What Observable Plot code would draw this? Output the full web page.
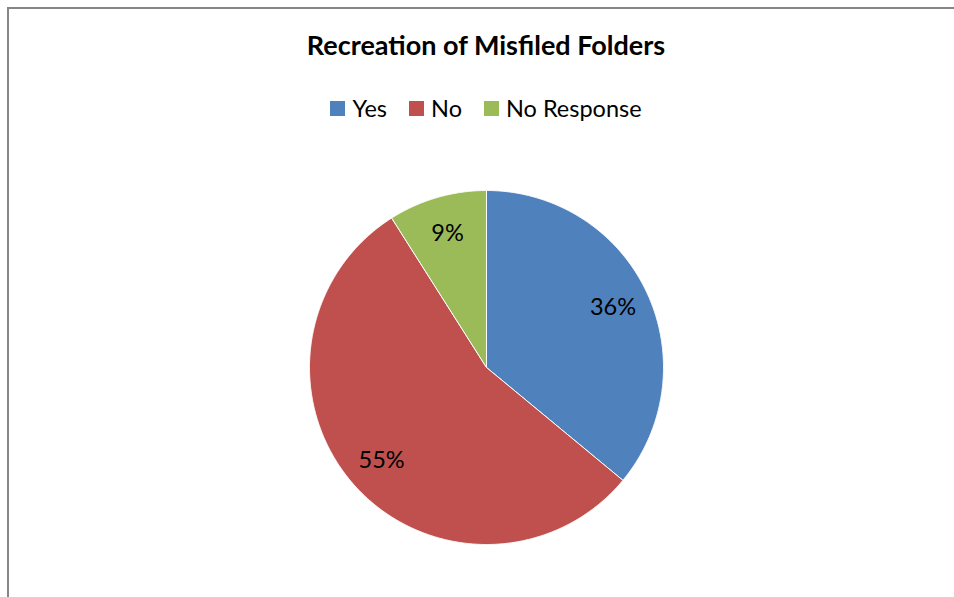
<!DOCTYPE html>
<html>
<head>
<meta charset="utf-8">
<script src="https://cdn.jsdelivr.net/npm/d3@7"></script>
<script src="https://cdn.jsdelivr.net/npm/@observablehq/plot@0.6"></script>
<style>
  html, body { margin: 0; padding: 0; background: #fff; overflow: hidden; }
  #wrap { position: relative; width: 954px; height: 597px; overflow: hidden; font-family: Lato, "Open Sans", sans-serif; }
  #frame { position: absolute; left: 7px; top: 7px; width: 1000px; height: 1000px; border-top: 2px solid #868686; border-left: 2px solid #868686; box-sizing: border-box; }
  #title { position: absolute; left: 0; width: 972px; top: 28px; text-align: center; font-weight: bold; font-size: 27px; color: #000; white-space: nowrap; }
  #legend { position: absolute; left: 0; width: 972px; top: 94px; display: flex; justify-content: center; gap: 22px; font-size: 23.5px; color: #000; }
  #legend .item { display: flex; align-items: center; gap: 7px; }
  #legend .sw { width: 15px; height: 15px; display: inline-block; }
  #chart { position: absolute; left: 0; top: 130px; }
</style>
</head>
<body>
<div id="wrap">
  <div id="frame"></div>
  <div id="title"></div>
  <div id="legend"></div>
  <div id="chart"></div>
</div>
<script>
const title = "Recreation of Misfiled Folders";
const categories = ["Yes", "No", "No Response"];
const values = [36, 55, 9];
const colors = ["#4F81BD", "#C0504D", "#9BBB59"];

document.getElementById("title").textContent = title;
const legend = document.getElementById("legend");
categories.forEach((c, i) => {
  const item = document.createElement("span");
  item.className = "item";
  const sw = document.createElement("span");
  sw.className = "sw";
  sw.style.background = colors[i];
  const t = document.createElement("span");
  t.textContent = c;
  item.appendChild(sw);
  item.appendChild(t);
  legend.appendChild(item);
});

const total = d3.sum(values);
const slices = d3.pie().sort(null).value(d => d.value)(categories.map((c, i) => ({cat: c, value: values[i]})));

// polygon points for each slice, in unit-circle coordinates (angle clockwise from top)
const points = [];
slices.forEach(s => {
  const cat = s.data.cat;
  points.push({cat, x: 0, y: 0});
  const n = Math.max(2, Math.ceil((s.endAngle - s.startAngle) / 0.005));
  for (let k = 0; k <= n; k++) {
    const a = s.startAngle + (s.endAngle - s.startAngle) * k / n;
    points.push({cat, x: Math.sin(a), y: Math.cos(a)});
  }
  points.push({cat, x: 0, y: 0});
});

const labels = slices.map(s => {
  const a = (s.startAngle + s.endAngle) / 2;
  return {
    text: Math.round(s.data.value / total * 100) + "%",
    x: 0.79 * Math.sin(a),
    y: 0.79 * Math.cos(a)
  };
});

const chart = Plot.plot({
  width: 954,
  height: 467,
  marginLeft: 309,
  marginRight: 291,
  marginTop: 60,
  marginBottom: 53,
  x: {domain: [-1, 1], axis: null},
  y: {domain: [-1, 1], axis: null},
  color: {domain: categories, range: colors},
  style: {fontFamily: "Lato, 'Open Sans', sans-serif", background: "transparent"},
  marks: [
    Plot.line(points, {x: "x", y: "y", z: "cat", fill: "cat", stroke: "#ffffff", strokeWidth: 1, curve: "linear"}),
    Plot.text(labels, {x: "x", y: "y", text: "text", fontSize: 23.5, fill: "#000"})
  ]
});
document.getElementById("chart").appendChild(chart);
</script>
</body>
</html>
